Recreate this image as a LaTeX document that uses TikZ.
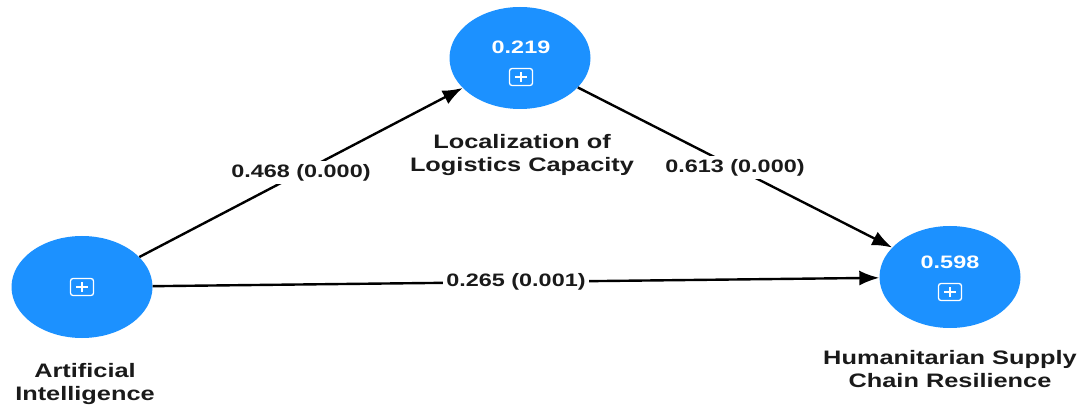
\documentclass[tikz,border=0pt]{standalone}
\usepackage{fontspec}
\setmainfont{Liberation Sans}[FakeStretch=1.3]
\usetikzlibrary{shapes.geometric,arrows.meta}
\definecolor{nodeblue}{HTML}{1C91FF}
\definecolor{txt}{HTML}{1A1A1A}
\begin{document}
\begin{tikzpicture}[x=1pt,y=-1pt,
  latent/.style={ellipse,fill=nodeblue,draw=none,minimum width=141pt,minimum height=102pt,inner sep=0pt},
  rsq/.style={text=white,font=\fontsize{18}{20}\selectfont\bfseries,inner sep=0pt},
  iconbox/.style={draw=white,line width=1.3pt,rounded corners=2.5pt,minimum width=23pt,minimum height=17pt,inner sep=0pt,
    path picture={\draw[white,line width=1.3pt]
      ([xshift=-6pt]path picture bounding box.center) -- ([xshift=6pt]path picture bounding box.center)
      ([yshift=-5pt]path picture bounding box.center) -- ([yshift=5pt]path picture bounding box.center);}},
  lvname/.style={text=txt,font=\fontsize{19.5}{23}\selectfont\bfseries,align=center,inner sep=0pt},
  path/.style={draw=black,line width=2.4pt,-{Latex[length=20pt,width=15pt]}},
  coef/.style={fill=white,text=txt,font=\fontsize{18}{20}\selectfont\bfseries,inner sep=3pt}
]
\useasboundingbox (0,0) rectangle (1085,406);
\node[latent] (ai) at (82,287) {};
\node[latent] (llc) at (520,58) {};
\node[latent] (hscr) at (950,277) {};
\node[iconbox] (aiicon) at (82,287) {};
\node[rsq] (llcr) at (521,47) {0.219};
\node[iconbox] (llcicon) at (521,77) {};
\node[rsq] (hscrr) at (950,262) {0.598};
\node[iconbox] (hscricon) at (950,292) {};
\node[lvname] (ailab) at (85,384) {Artificial\\Intelligence};
\node[lvname] (llclab) at (522,155) {Localization of\\Logistics Capacity};
\node[lvname] (hscrlab) at (950,369) {Humanitarian Supply\\Chain Resilience};
\draw[path] (ai) -- node[coef] (c1) {0.468 (0.000)} (llc);
\draw[path] (llc) -- node[coef] (c2) {0.613 (0.000)} (hscr);
\draw[path] (ai) -- node[coef] (c3) {0.265 (0.001)} (hscr);
\end{tikzpicture}
\end{document}
